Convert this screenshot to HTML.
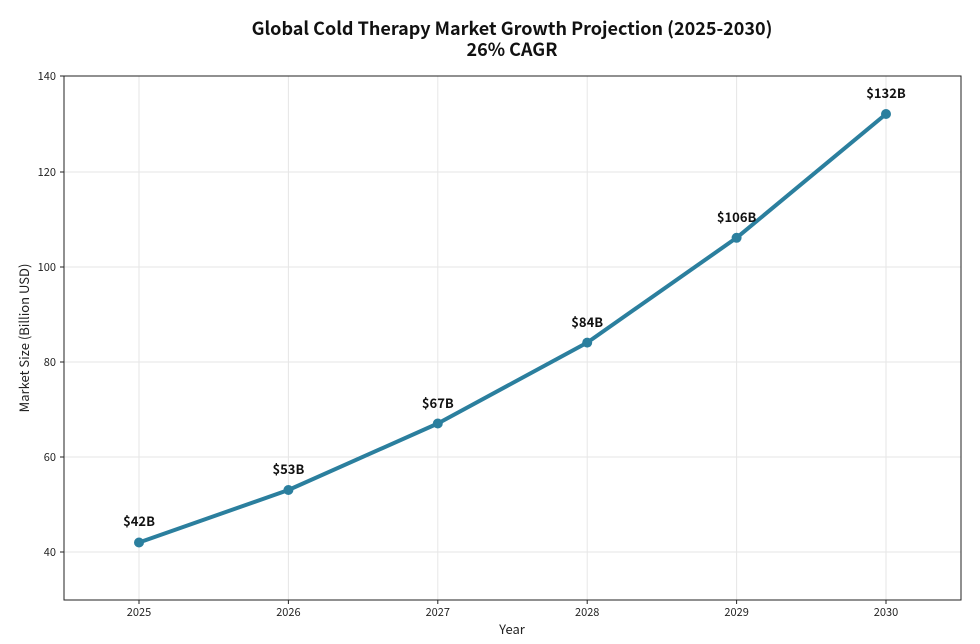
<!DOCTYPE html>
<html><head><meta charset="utf-8"><style>
html,body{margin:0;padding:0;background:#fff;}
svg{display:block;font-family:"Noto Sans CJK JP","Liberation Sans",sans-serif;}
</style></head><body>
<svg width="980" height="644" viewBox="0 0 980 644">
<rect width="980" height="644" fill="#fff"/>
<text x="512" y="35" text-anchor="middle" font-size="18" font-weight="bold" fill="#111">Global Cold Therapy Market Growth Projection (2025-2030)</text>
<text x="512" y="56" text-anchor="middle" font-size="18" font-weight="bold" fill="#111">26% CAGR</text>
<g stroke="#e6e6e6" stroke-width="1">
<line x1="139" y1="76" x2="139" y2="600"/><line x1="288.4" y1="76" x2="288.4" y2="600"/><line x1="437.8" y1="76" x2="437.8" y2="600"/><line x1="587.2" y1="76" x2="587.2" y2="600"/><line x1="736.6" y1="76" x2="736.6" y2="600"/><line x1="886" y1="76" x2="886" y2="600"/>
<line x1="64" y1="552" x2="961" y2="552"/><line x1="64" y1="457" x2="961" y2="457"/><line x1="64" y1="362" x2="961" y2="362"/><line x1="64" y1="267" x2="961" y2="267"/><line x1="64" y1="172" x2="961" y2="172"/>
</g>
<rect x="64" y="76" width="897" height="524" fill="none" stroke="#222" stroke-width="1"/>
<g stroke="#222"><line x1="60" y1="76" x2="64" y2="76"/><line x1="60" y1="172" x2="64" y2="172"/><line x1="60" y1="267" x2="64" y2="267"/><line x1="60" y1="362" x2="64" y2="362"/><line x1="60" y1="457" x2="64" y2="457"/><line x1="60" y1="552" x2="64" y2="552"/>
<line x1="139" y1="600" x2="139" y2="604"/><line x1="288.4" y1="600" x2="288.4" y2="604"/><line x1="437.8" y1="600" x2="437.8" y2="604"/><line x1="587.2" y1="600" x2="587.2" y2="604"/><line x1="736.6" y1="600" x2="736.6" y2="604"/><line x1="886" y1="600" x2="886" y2="604"/></g>
<g font-size="11" fill="#222" text-anchor="end">
<text x="56" y="80">140</text><text x="56" y="176">120</text><text x="56" y="271">100</text><text x="56" y="366">80</text><text x="56" y="461">60</text><text x="56" y="556">40</text></g>
<g font-size="11" fill="#222" text-anchor="middle">
<text x="139" y="616">2025</text><text x="288.4" y="616">2026</text><text x="437.8" y="616">2027</text><text x="587.2" y="616">2028</text><text x="736.6" y="616">2029</text><text x="886" y="616">2030</text></g>
<text x="512" y="634" text-anchor="middle" font-size="13" fill="#222">Year</text>
<text transform="translate(29,338) rotate(-90)" text-anchor="middle" font-size="13" fill="#222">Market Size (Billion USD)</text>
<polyline points="139,542.5 288.4,490 437.8,423.5 587.2,342.6 736.6,237.8 886,114" fill="none" stroke="#2b7f9e" stroke-width="4" stroke-linejoin="round"/>
<g fill="#2b7f9e"><circle cx="139" cy="542.5" r="5"/><circle cx="288.4" cy="490" r="5"/><circle cx="437.8" cy="423.5" r="5"/><circle cx="587.2" cy="342.6" r="5"/><circle cx="736.6" cy="237.8" r="5"/><circle cx="886" cy="114" r="5"/></g>
<g font-size="13" font-weight="bold" fill="#111" text-anchor="middle">
<text x="139" y="526">$42B</text><text x="288.4" y="474">$53B</text><text x="437.8" y="408">$67B</text><text x="587.2" y="327">$84B</text><text x="736.6" y="222">$106B</text><text x="886" y="98">$132B</text></g>
</svg>
</body></html>
